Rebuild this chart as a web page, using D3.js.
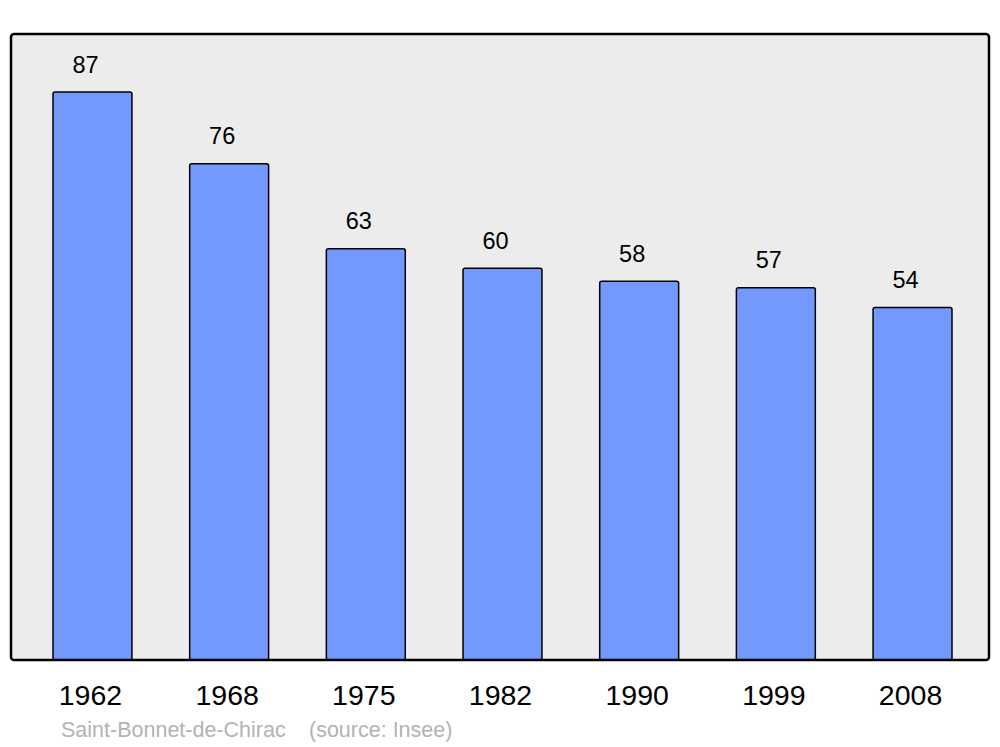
<!DOCTYPE html>
<html>
<head>
<meta charset="utf-8">
<script src="https://cdn.jsdelivr.net/npm/d3@7"></script>
<style>
  body { margin: 0; background: #fff; }
  text { font-family: "Liberation Sans", Arial, sans-serif; }
</style>
</head>
<body>
<div id="chart"></div>
<script>
// data
const years = ["1962", "1968", "1975", "1982", "1990", "1999", "2008"];
const population = [87, 76, 63, 60, 58, 57, 54];
const commune = "Saint-Bonnet-de-Chirac";
const sourceNote = "(source: Insee)";

const svgWidth = 1000;
const svgHeight = 747;

const svg = d3.select("#chart")
  .append("svg")
  .attr("width", svgWidth)
  .attr("height", svgHeight);

// plot frame
const frame = { left: 11, top: 34, right: 989, bottom: 660 };

svg.append("rect")
  .attr("x", frame.left)
  .attr("y", frame.top)
  .attr("width", frame.right - frame.left)
  .attr("height", frame.bottom - frame.top)
  .attr("rx", 3)
  .attr("fill", "#ececec");

// scales
const xScale = d3.scaleBand()
  .domain(years)
  .range([53, 952])
  .paddingInner(0.4225)
  .paddingOuter(0);

const yScale = d3.scaleLinear()
  .domain([0, d3.max(population)])
  .range([frame.bottom, 92]);

const data = years.map((y, i) => ({ year: y, value: population[i] }));

// bars
svg.selectAll(".bar")
  .data(data)
  .enter()
  .append("rect")
  .attr("class", "bar")
  .attr("x", d => xScale(d.year))
  .attr("y", d => yScale(d.value))
  .attr("width", xScale.bandwidth())
  .attr("height", d => frame.bottom - yScale(d.value))
  .attr("rx", 2)
  .attr("fill", "#7399ff")
  .attr("stroke", "#000")
  .attr("stroke-width", 1.5);

// value labels
svg.selectAll(".val")
  .data(data)
  .enter()
  .append("text")
  .attr("class", "val")
  .attr("x", d => xScale(d.year) + xScale.bandwidth() / 2 - 7)
  .attr("y", d => yScale(d.value) - 19.5)
  .attr("text-anchor", "middle")
  .attr("font-size", "23.5px")
  .attr("fill", "#000")
  .text(d => d.value);

// frame outline on top of the bars
svg.append("rect")
  .attr("x", frame.left)
  .attr("y", frame.top)
  .attr("width", frame.right - frame.left)
  .attr("height", frame.bottom - frame.top)
  .attr("rx", 3)
  .attr("fill", "none")
  .attr("stroke", "#000")
  .attr("stroke-width", 2.5);

// year axis labels
svg.selectAll(".year")
  .data(years)
  .enter()
  .append("text")
  .attr("class", "year")
  .attr("x", d => xScale(d) + xScale.bandwidth() / 2 - 2)
  .attr("y", 705)
  .attr("text-anchor", "middle")
  .attr("font-size", "28.5px")
  .attr("fill", "#000")
  .text(d => d);

// footnote
svg.append("text")
  .attr("x", 61)
  .attr("y", 737)
  .attr("font-size", "21.5px")
  .attr("fill", "#b3b3b3")
  .text(commune);

svg.append("text")
  .attr("x", 309)
  .attr("y", 737)
  .attr("font-size", "21.5px")
  .attr("fill", "#b3b3b3")
  .text(sourceNote);
</script>
</body>
</html>
